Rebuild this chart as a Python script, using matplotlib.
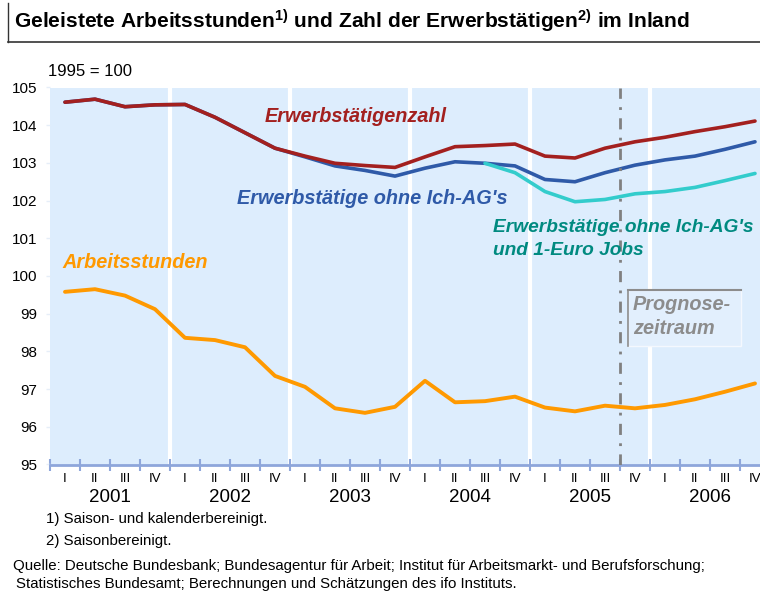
import matplotlib
matplotlib.use("Agg")
import matplotlib.pyplot as plt
from matplotlib.patches import Rectangle
from matplotlib.lines import Line2D
from matplotlib import font_manager

# ---------------- data ----------------
years = ["2001", "2002", "2003", "2004", "2005", "2006"]
quarter_names = ["I", "II", "III", "IV"]

erwerbstaetige = [104.61, 104.69, 104.49, 104.54, 104.55, 104.21, 103.80, 103.39,
                  103.18, 102.99, 102.93, 102.88, 103.16, 103.43, 103.46, 103.50,
                  103.18, 103.13, 103.39, 103.56, 103.68, 103.83, 103.96, 104.11]
ohne_ich_ag = [104.61, 104.69, 104.49, 104.54, 104.55, 104.21, 103.80, 103.39,
               103.16, 102.92, 102.80, 102.65, 102.86, 103.03, 102.99, 102.92,
               102.56, 102.50, 102.74, 102.94, 103.08, 103.18, 103.36, 103.56]
ohne_1euro_start = 14
ohne_1euro = [102.99, 102.74, 102.24, 101.97, 102.03, 102.18, 102.24, 102.35,
              102.53, 102.72]
arbeitsstunden = [99.58, 99.65, 99.48, 99.12, 98.36, 98.30, 98.11, 97.35,
                  97.06, 96.49, 96.37, 96.53, 97.22, 96.65, 96.68, 96.80,
                  96.51, 96.41, 96.56, 96.49, 96.58, 96.73, 96.93, 97.15]
prognose_start = 18.5  # boundary between 2005 III and 2005 IV
y_ticks = [95, 96, 97, 98, 99, 100, 101, 102, 103, 104, 105]

# ---------------- style ----------------
FONT = ["Liberation Sans", "DejaVu Sans"]
plt.rcParams["font.family"] = FONT
plt.rcParams["mathtext.fontset"] = "custom"
plt.rcParams["mathtext.rm"] = "Liberation Sans"
plt.rcParams["mathtext.bf"] = "Liberation Sans:bold"
plt.rcParams["mathtext.it"] = "Liberation Sans:italic"

RED = "#A3201F"
BLUE = "#2F5AA8"
CYAN = "#33CCCC"
TEAL = "#008A80"
ORANGE = "#FF9900"
BG = "#DDEDFD"
AXC = "#8EA6DB"

W, H = 760, 592
fig = plt.figure(figsize=(W / 100, H / 100), dpi=100)

def fx(px):
    return px / W

def fy(py):
    return 1 - py / H

left, right, top, bottom = 50, 770, 87.5, 464.5
ax = fig.add_axes([fx(left), fy(bottom), (right - left) / W, (bottom - top) / H])
ax.set_facecolor(BG)
n = len(erwerbstaetige)
x = list(range(n))
ax.set_xlim(-0.5, n - 0.5)
ax.set_ylim(95, 105)

# year separators
for k in range(1, len(years)):
    ax.axvline(4 * k - 0.5, color="white", lw=3, zorder=1)

# lines
ax.plot(x, erwerbstaetige, color=RED, lw=2.6, zorder=4, solid_capstyle="round")
ax.plot(x, ohne_ich_ag, color=BLUE, lw=2.6, zorder=3, solid_capstyle="round")
x1 = list(range(ohne_1euro_start, ohne_1euro_start + len(ohne_1euro)))
ax.plot(x1, ohne_1euro, color=CYAN, lw=2.6, zorder=3, solid_capstyle="round")
ax.plot(x, arbeitsstunden, color=ORANGE, lw=2.8, zorder=3, solid_capstyle="round")

# prognose line
ax.axvline(prognose_start, color="#808080", lw=2, ls=(0, (4, 3, 1, 3)), zorder=5)

# axes styling
for s in ["top", "right", "left"]:
    ax.spines[s].set_visible(False)
ax.spines["bottom"].set_color(AXC)
ax.spines["bottom"].set_linewidth(2)
ax.set_xticks([i - 0.5 for i in range(n + 1)])
ax.set_xticklabels([])
ax.tick_params(axis="x", direction="inout", length=8, width=1.5, color=AXC)
ax.set_yticks(y_ticks)
ax.set_yticklabels([str(v) for v in y_ticks], fontsize=11)
ax.tick_params(axis="y", length=3, width=1, color="#E6EEF8", pad=6)

# quarter and year labels
for i in range(n):
    fig.text(fx(left + 30 * i + 15), fy(479), quarter_names[i % 4],
             ha="center", va="center", fontsize=9.5)
for k, yr in enumerate(years):
    fig.text(fx(left + 120 * k + 60), fy(498), yr, ha="center", va="center",
             fontsize=13.5)

# unit label
fig.text(fx(48), fy(72), "1995 = 100", ha="left", va="center", fontsize=12)

# in-plot labels
lab_kw = dict(fontsize=14.3, fontweight="bold", fontstyle="italic", va="center", ha="left")
fig.text(fx(265), fy(117), "Erwerbstätigenzahl", color=RED, **lab_kw)
fig.text(fx(237), fy(199), "Erwerbstätige ohne Ich-AG's", color=BLUE, **lab_kw)
tk = dict(lab_kw)
tk["fontsize"] = 13.8
fig.text(fx(493), fy(228), "Erwerbstätige ohne Ich-AG's", color=TEAL, **tk)
fig.text(fx(493), fy(250), "und 1-Euro Jobs", color=TEAL, **tk)
fig.text(fx(62), fy(262), "Arbeitsstunden", color=ORANGE, **lab_kw)

# prognose box
bx0, by0, bx1, by1 = 628, 290, 741, 346
fig.patches.append(Rectangle((fx(bx0), fy(by1)), (bx1 - bx0) / W, (by1 - by0) / H,
                             transform=fig.transFigure, facecolor="#E2EFFD",
                             edgecolor="#F4F8FE", lw=1, zorder=6))
fig.lines.append(Line2D([fx(bx0), fx(bx1)], [fy(by0), fy(by0)], transform=fig.transFigure,
                        color="#8C8C8C", lw=1.5, zorder=7))
fig.lines.append(Line2D([fx(bx0), fx(bx0)], [fy(by0), fy(by1)], transform=fig.transFigure,
                        color="#8C8C8C", lw=1.2, zorder=7))
fig.text(fx(633), fy(304), "Prognose-", color="#8C8C8C", zorder=8, **lab_kw)
fig.text(fx(633), fy(328), "zeitraum", color="#8C8C8C", zorder=8, **lab_kw)

# title with frame
fig.text(fx(14), fy(21),
         r"Geleistete Arbeitsstunden$^{\mathbf{1)}}$ und Zahl der Erwerbstätigen$^{\mathbf{2)}}$ im Inland",
         ha="left", va="center", fontsize=15.1, fontweight="bold")
fig.lines.append(Line2D([fx(8), fx(8)], [fy(3), fy(42)], transform=fig.transFigure,
                        color="#333333", lw=1))
fig.lines.append(Line2D([fx(8), fx(760)], [fy(42), fy(42)], transform=fig.transFigure,
                        color="#333333", lw=1.2))

# footnotes
fs_foot = 10.8
fig.text(fx(46), fy(519), "1) Saison- und kalenderbereinigt.", ha="left", va="center",
         fontsize=fs_foot)
fig.text(fx(46), fy(541), "2) Saisonbereinigt.", ha="left", va="center",
         fontsize=fs_foot)
fig.text(fx(13), fy(566), "Quelle: Deutsche Bundesbank; Bundesagentur für Arbeit; Institut für Arbeitsmarkt- und Berufsforschung;",
         ha="left", va="center", fontsize=fs_foot)
fig.text(fx(16), fy(584), "Statistisches Bundesamt; Berechnungen und Schätzungen des ifo Instituts.",
         ha="left", va="center", fontsize=fs_foot)

fig.savefig("out.png", dpi=100)
